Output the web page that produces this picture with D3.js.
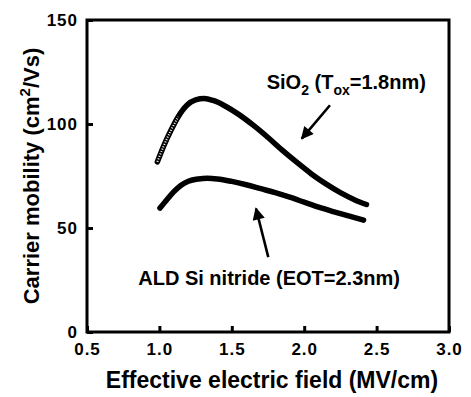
<!DOCTYPE html>
<html>
<head>
<meta charset="utf-8">
<script src="https://cdn.jsdelivr.net/npm/d3@7"></script>
<style>
  body { margin: 0; background: #fff; }
  svg text { font-family: "Liberation Sans", Arial, sans-serif; font-weight: bold; fill: #000; }
</style>
</head>
<body>
<div id="chart"></div>
<script>
// chart size and margins
const width = 471;
const height = 397;
const margin = {left: 87, right: 22, top: 20, bottom: 65};

// data
const xTicks = [0.5, 1.0, 1.5, 2.0, 2.5, 3.0];
const yTicks = [0, 50, 100, 150];

const sio2Field = [0.986, 1.03, 1.08, 1.13, 1.19, 1.25, 1.31, 1.37, 1.45, 1.55, 1.65, 1.75, 1.85, 1.95, 2.05, 2.15, 2.25, 2.35, 2.43];
const sio2Mobility = [81.8, 89.5, 97.0, 103.5, 109.0, 111.6, 112.2, 111.3, 108.8, 104.5, 99.3, 93.5, 87.3, 81.5, 76.0, 71.2, 67.0, 63.5, 61.3];

const nitrideField = [1.004, 1.05, 1.10, 1.15, 1.20, 1.27, 1.33, 1.40, 1.50, 1.60, 1.70, 1.80, 1.90, 2.00, 2.10, 2.20, 2.30, 2.41];
const nitrideMobility = [59.6, 63.5, 67.5, 70.6, 72.5, 73.6, 73.9, 73.6, 72.4, 70.8, 68.9, 67.0, 64.8, 62.4, 60.0, 57.9, 55.9, 53.8];

// annotations: [x, y] in data units
const sio2Arrow = [[2.178, 109], [1.983, 93]];
const nitrideArrow = [[1.752, 36], [1.667, 59.4]];
const sio2LabelPos = [1.741, 117];
const nitrideLabelPos = [0.854, 22.6];

const x = d3.scaleLinear().domain([0.5, 3.0]).range([margin.left, width - margin.right]);
const y = d3.scaleLinear().domain([0, 150]).range([height - margin.bottom, margin.top]);

const svg = d3.select("#chart")
  .append("svg")
  .attr("width", width)
  .attr("height", height);

// arrow head
svg.append("defs").append("marker")
  .attr("id", "head")
  .attr("viewBox", "0 0 10 10")
  .attr("refX", 9).attr("refY", 5)
  .attr("markerWidth", 5.8).attr("markerHeight", 4.8)
  .attr("markerUnits", "strokeWidth")
  .attr("orient", "auto")
  .append("path")
  .attr("d", "M0,0 L10,5 L0,10 Z")
  .attr("fill", "#000");

// x axis
const xAxis = svg.append("g")
  .attr("transform", `translate(0,${y(0)})`)
  .call(d3.axisBottom(x).tickValues(xTicks).tickFormat(d3.format(".1f"))
    .tickSizeInner(-6).tickSizeOuter(0).tickPadding(11));
xAxis.select(".domain").remove();
xAxis.selectAll("line").attr("stroke-width", 3);
xAxis.selectAll("text").attr("font-size", "17px").attr("letter-spacing", "1px");

// y axis
const yAxis = svg.append("g")
  .attr("transform", `translate(${x(0.5)},0)`)
  .call(d3.axisLeft(y).tickValues(yTicks)
    .tickSizeInner(-6).tickSizeOuter(0).tickPadding(9));
yAxis.select(".domain").remove();
yAxis.selectAll("line").attr("stroke-width", 3);
yAxis.selectAll("text").attr("font-size", "17px").attr("letter-spacing", "1px");

// frame
svg.append("rect")
  .attr("x", x(0.5)).attr("y", y(150))
  .attr("width", x(3.0) - x(0.5)).attr("height", y(0) - y(150))
  .attr("fill", "none").attr("stroke", "#000").attr("stroke-width", 3);

// curves
const line = d3.line()
  .x(d => x(d[0]))
  .y(d => y(d[1]))
  .curve(d3.curveMonotoneX);

const sio2 = sio2Field.map((f, i) => [f, sio2Mobility[i]]);
const nitride = nitrideField.map((f, i) => [f, nitrideMobility[i]]);

svg.append("path").datum(sio2)
  .attr("d", line)
  .attr("fill", "none").attr("stroke", "#000")
  .attr("stroke-width", 5.5).attr("stroke-linecap", "round");

// the low-field end shows the individual open markers
svg.append("path").datum(sio2.slice(0, 4))
  .attr("d", line)
  .attr("fill", "none").attr("stroke", "#fff")
  .attr("stroke-width", 2).attr("stroke-dasharray", "1 1.6");

svg.append("path").datum(nitride)
  .attr("d", line)
  .attr("fill", "none").attr("stroke", "#000")
  .attr("stroke-width", 5.5).attr("stroke-linecap", "round");

// arrows
[sio2Arrow, nitrideArrow].forEach(a => {
  svg.append("line")
    .attr("x1", x(a[0][0])).attr("y1", y(a[0][1]))
    .attr("x2", x(a[1][0])).attr("y2", y(a[1][1]))
    .attr("stroke", "#000").attr("stroke-width", 2.6)
    .attr("marker-end", "url(#head)");
});

// labels
const t1 = svg.append("text")
  .attr("x", x(sio2LabelPos[0])).attr("y", y(sio2LabelPos[1]))
  .attr("font-size", "20px");
t1.append("tspan").text("SiO");
t1.append("tspan").attr("font-size", "14px").attr("dy", 6).text("2");
t1.append("tspan").attr("dy", -6).text(" (T");
t1.append("tspan").attr("font-size", "14px").attr("dy", 6).text("ox");
t1.append("tspan").attr("dy", -6).text("=1.8nm)");

svg.append("text")
  .attr("x", x(nitrideLabelPos[0])).attr("y", y(nitrideLabelPos[1]))
  .attr("font-size", "20px")
  .text("ALD Si nitride (EOT=2.3nm)");

// axis titles
svg.append("text")
  .attr("x", (x(0.5) + x(3.0)) / 2 + 4)
  .attr("y", 388)
  .attr("text-anchor", "middle")
  .attr("font-size", "23px")
  .text("Effective electric field (MV/cm)");

const yt = svg.append("text")
  .attr("transform", `translate(39,${(y(0) + y(150)) / 2}) rotate(-90)`)
  .attr("text-anchor", "middle")
  .attr("font-size", "22px");
yt.append("tspan").text("Carrier mobility (cm");
yt.append("tspan").attr("font-size", "15px").attr("dy", -9).text("2");
yt.append("tspan").attr("dy", 9).text("/Vs)");
</script>
</body>
</html>
